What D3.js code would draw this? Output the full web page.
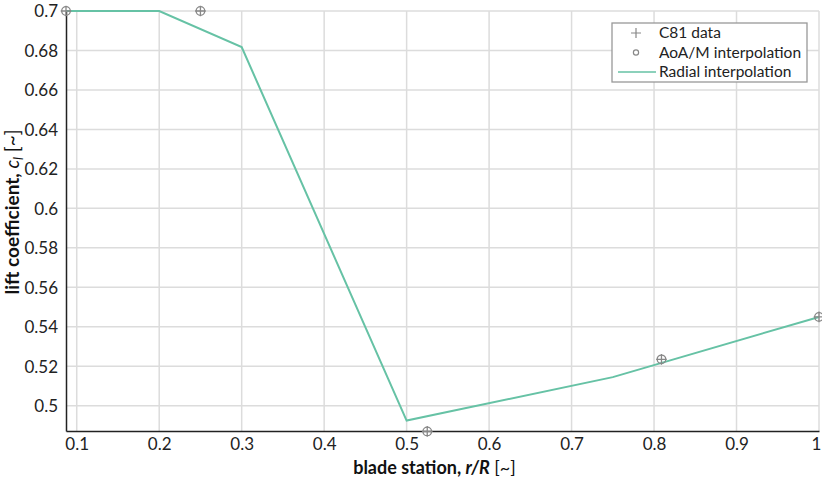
<!DOCTYPE html>
<html><head><meta charset="utf-8">
<script src="https://cdn.jsdelivr.net/npm/d3@7"></script>
<style>body{margin:0;background:#fff}svg{display:block}text{font-family:Lato,sans-serif}</style>
</head><body>
<svg id="c" width="822" height="477"></svg>
<script>
const lineR = [0.087, 0.2, 0.3, 0.5, 0.75, 1.0];
const lineCl = [0.7, 0.7, 0.6817, 0.4925, 0.5145, 0.545];
const dataR = [0.087, 0.25, 0.525, 0.809, 1.0];
const dataCl = [0.7, 0.7, 0.487, 0.5235, 0.545];
const xTicks = [0.1,0.2,0.3,0.4,0.5,0.6,0.7,0.8,0.9,1];
const yTicks = [0.5,0.52,0.54,0.56,0.58,0.6,0.62,0.64,0.66,0.68,0.7];
const legendLabels = ["C81 data","AoA/M interpolation","Radial interpolation"];

const svg = d3.select("#c");
const L=66, R=819, T=11, B=431;
const x = d3.scaleLinear().domain([0.087,1]).range([L,R]);
const y = d3.scaleLinear().domain([0.4872,0.7]).range([B,T]);
const grey="#dcdcdc";
svg.append("g").selectAll("line").data(xTicks).join("line")
 .attr("x1",d=>x(d)).attr("x2",d=>x(d)).attr("y1",T).attr("y2",B).attr("stroke",grey).attr("stroke-width",1.5);
svg.append("g").selectAll("line").data(yTicks).join("line")
 .attr("y1",d=>y(d)).attr("y2",d=>y(d)).attr("x1",L).attr("x2",R).attr("stroke",grey).attr("stroke-width",1.5);

const xa = svg.append("g").attr("transform",`translate(0,${B})`).call(d3.axisBottom(x).tickValues(xTicks).tickSize(0).tickPadding(7).tickFormat(d3.format("~g")));
const ya = svg.append("g").attr("transform",`translate(${L},0)`).call(d3.axisLeft(y).tickValues(yTicks).tickSize(0).tickPadding(8).tickFormat(d3.format("~g")));
[xa,ya].forEach(a=>{a.select(".domain").attr("stroke","#222").attr("stroke-width",1.5);
 a.selectAll("text").attr("font-size",17).attr("fill","#222").attr("font-family","Lato");});
xa.selectAll("text").attr("dy","0.71em").attr("dx",d=>d===1?-3:0);
ya.selectAll("text").attr("dy","0.35em");

const pts = lineR.map((r,i)=>[r,lineCl[i]]);
svg.append("path").datum(pts).attr("fill","none").attr("stroke","#66c2a5").attr("stroke-width",2)
 .attr("d",d3.line().x(d=>x(d[0])).y(d=>y(d[1])));

const mk = svg.append("g").selectAll("g").data(dataR.map((r,i)=>[r,dataCl[i]])).join("g")
 .attr("transform",d=>`translate(${x(d[0])},${y(d[1])})`);
mk.append("circle").attr("r",4.3).attr("fill","none").attr("stroke","#888").attr("stroke-width",1.3);
mk.append("path").attr("d","M-5.3,0H5.3M0,-5.3V5.3").attr("stroke","#888").attr("stroke-width",1.3);

const lg = svg.append("g");
lg.append("rect").attr("x",612).attr("y",23).attr("width",195).attr("height",59).attr("fill","#fff").attr("stroke","#999").attr("stroke-width",1.3);
const ly=[33,52.5,72];
lg.append("path").attr("d",`M636,${ly[0]-5}v10M631,${ly[0]}h10`).attr("stroke","#888").attr("stroke-width",1.2);
lg.append("circle").attr("cx",636).attr("cy",ly[1]).attr("r",2.6).attr("fill","none").attr("stroke","#888").attr("stroke-width",1.2);
lg.append("line").attr("x1",618).attr("x2",656).attr("y1",ly[2]).attr("y2",ly[2]).attr("stroke","#66c2a5").attr("stroke-width",1.3);
lg.selectAll("text").data(legendLabels).join("text").attr("x",659).attr("y",(d,i)=>ly[i]).attr("dy","0.35em")
 .attr("font-size",15.5).attr("fill","#222").text(d=>d);

const xl = svg.append("text").attr("x",(L+R)/2-8).attr("y",473.5).attr("text-anchor","middle").attr("font-size",18).attr("font-weight","bold").attr("fill","#111");
xl.append("tspan").text("blade station, ");
xl.append("tspan").attr("font-style","italic").text("r/R");
xl.append("tspan").attr("font-weight","normal").text(" [~]");
const yl = svg.append("text").attr("transform",`translate(19,${(T+B)/2 - 9}) rotate(-90)`).attr("text-anchor","middle").attr("font-size",19).attr("font-weight","bold").attr("fill","#111");
yl.append("tspan").text("lift coefficient, ");
yl.append("tspan").attr("font-style","italic").attr("font-weight","normal").text("c");
yl.append("tspan").attr("font-style","italic").attr("font-weight","normal").attr("font-size",13).attr("dy",4).text("l");
yl.append("tspan").attr("font-weight","normal").attr("dy",-4).text(" [~]");
</script>
</body></html>
